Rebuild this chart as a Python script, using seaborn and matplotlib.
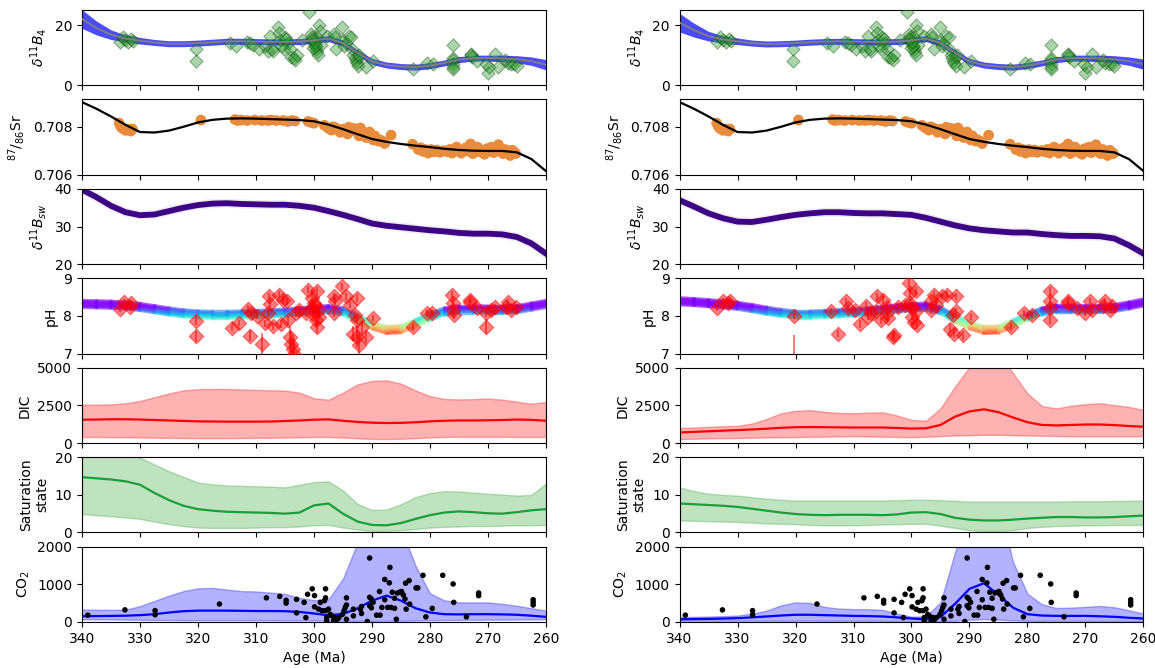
import numpy as np
import matplotlib
matplotlib.use('Agg')
import matplotlib.pyplot as plt
import seaborn as sns
from matplotlib.collections import LineCollection

# 公共年龄网格 (Ma)
age_grid = np.arange(340, 259, -2.5)

# δ11B4 拟合曲线
d11b4_mid_l = [22.0, 19.0, 16.8, 15.5, 14.8, 14.2, 13.8, 13.8, 14.0, 14.3, 14.6,
               14.6, 14.5, 14.4, 14.4, 14.5, 14.9, 15.5, 14.0, 10.8, 7.9, 6.7,
               6.2, 6.0, 6.5, 7.4, 8.5, 9.0, 9.0, 8.9, 8.6, 8.0, 6.8]
d11b4_mid_r = [20.8, 18.3, 16.3, 15.2, 14.6, 14.0, 13.7, 13.8, 14.0, 14.3, 14.5,
               14.6, 14.5, 14.4, 14.4, 14.5, 14.9, 15.5, 14.0, 10.8, 7.9, 6.7,
               6.2, 6.0, 6.5, 7.4, 8.5, 9.0, 9.0, 8.9, 8.6, 8.0, 7.0]
d11b4_hw = [3.1, 2.3, 1.6, 1.2, 1.1, 1.0, 1.0, 1.0, 1.0, 1.0, 1.0,
            1.0, 1.0, 1.0, 1.0, 1.0, 1.0, 1.0, 1.0, 1.0, 1.0, 1.0,
            1.0, 1.0, 1.0, 1.0, 1.0, 1.0, 1.0, 1.1, 1.2, 1.4, 1.7]

# 87/86Sr 曲线
sr_curve = [0.70903, 0.70875, 0.70843, 0.70808, 0.70778, 0.70776, 0.70784, 0.70800, 0.70818, 0.70829, 0.70834,
            0.70835, 0.70834, 0.70832, 0.70830, 0.70828, 0.70823, 0.70809, 0.70790, 0.70769, 0.70749, 0.70737,
            0.70728, 0.70721, 0.70715, 0.70708, 0.70703, 0.70700, 0.70699, 0.70699, 0.70693, 0.70665, 0.70615]

# δ11Bsw
bsw_l = [39.8, 37.8, 35.5, 33.8, 33.0, 33.2, 34.1, 35.0, 35.7, 36.1, 36.2,
         36.0, 35.9, 35.8, 35.8, 35.5, 35.0, 34.1, 33.1, 32.0, 30.8, 30.2,
         29.8, 29.4, 29.0, 28.7, 28.3, 28.1, 28.1, 27.9, 27.2, 25.5, 22.8]
bsw_r = [37.0, 35.3, 33.5, 32.2, 31.3, 31.2, 31.8, 32.5, 33.1, 33.5, 33.8,
         33.8, 33.6, 33.5, 33.5, 33.3, 33.1, 32.3, 31.3, 30.3, 29.5, 29.0,
         28.7, 28.4, 28.4, 28.0, 27.7, 27.5, 27.5, 27.4, 26.8, 25.0, 22.8]

# pH 曲线
ph_l = [8.32, 8.31, 8.30, 8.28, 8.24, 8.18, 8.12, 8.07, 8.04, 8.03, 8.03,
        8.04, 8.05, 8.07, 8.09, 8.12, 8.16, 8.18, 8.12, 7.94, 7.75, 7.63,
        7.65, 7.81, 7.98, 8.12, 8.18, 8.18, 8.17, 8.17, 8.18, 8.25, 8.32]
ph_r = [8.39, 8.37, 8.34, 8.31, 8.27, 8.21, 8.14, 8.08, 8.04, 8.04, 8.05,
        8.07, 8.09, 8.12, 8.16, 8.20, 8.23, 8.25, 8.15, 7.92, 7.75, 7.63,
        7.64, 7.80, 7.98, 8.12, 8.20, 8.20, 8.18, 8.19, 8.21, 8.28, 8.36]

# DIC
dic_mid_l = [1550, 1560, 1580, 1580, 1560, 1530, 1500, 1470, 1440, 1430, 1420,
             1420, 1420, 1430, 1460, 1500, 1550, 1570, 1480, 1400, 1350, 1330,
             1340, 1380, 1440, 1480, 1500, 1500, 1510, 1530, 1560, 1540, 1480]
dic_lo_l = [400, 400, 390, 380, 370, 350, 340, 330, 320, 320, 320,
            330, 340, 350, 360, 380, 400, 400, 360, 310, 270, 260,
            280, 320, 370, 400, 410, 410, 410, 410, 400, 400, 400]
dic_hi_l = [2550, 2550, 2570, 2650, 2800, 3050, 3300, 3500, 3580, 3600, 3600,
            3560, 3530, 3510, 3490, 3350, 2980, 2880, 3350, 3900, 4130, 4170,
            3950, 3500, 3120, 2930, 2900, 2920, 2960, 2880, 2750, 2620, 2720]
dic_mid_r = [700, 740, 780, 820, 860, 900, 950, 1010, 1050, 1060, 1050,
             1040, 1030, 1030, 1030, 1000, 960, 980, 1200, 1750, 2100, 2240,
             2050, 1700, 1380, 1200, 1170, 1200, 1230, 1230, 1190, 1130, 1080]
dic_lo_r = [260, 280, 300, 320, 330, 350, 370, 380, 390, 410, 420,
            440, 450, 440, 420, 400, 390, 410, 460, 500, 520, 540,
            540, 520, 500, 480, 460, 450, 450, 450, 450, 450, 450]
dic_hi_r = [1000, 1030, 1080, 1120, 1140, 1300, 1600, 1980, 2140, 2190, 2080,
            2000, 1980, 2020, 2050, 1830, 1540, 1480, 2300, 3750, 5050, 6000,
            5900, 4650, 3300, 2460, 2300, 2480, 2580, 2650, 2520, 2400, 2200]

# 饱和度
sat_mid_l = [14.7, 14.4, 14.1, 13.6, 12.7, 10.5, 8.6, 7.1, 6.2, 5.8, 5.5,
             5.4, 5.3, 5.2, 5.0, 5.3, 7.2, 7.7, 5.0, 2.9, 2.0, 1.9,
             2.5, 3.6, 4.6, 5.3, 5.6, 5.4, 5.1, 5.0, 5.4, 5.9, 6.2]
sat_lo_l = [4.9, 4.6, 4.3, 4.0, 3.6, 2.9, 2.2, 1.7, 1.3, 1.2, 1.2,
            1.2, 1.3, 1.4, 1.4, 1.6, 1.9, 2.0, 1.3, 0.8, 0.4, 0.4,
            0.6, 0.9, 1.3, 1.5, 1.6, 1.7, 1.7, 1.8, 1.9, 1.9, 2.0]
sat_hi_l = [22.0, 21.8, 21.3, 20.6, 19.9, 18.1, 16.3, 14.8, 13.3, 12.8, 12.5,
            12.4, 12.3, 12.2, 12.0, 12.7, 13.4, 13.6, 11.2, 7.6, 6.0, 6.1,
            7.5, 9.4, 10.5, 11.0, 10.9, 10.6, 10.3, 10.1, 9.8, 10.0, 13.0]
sat_mid_r = [7.7, 7.5, 7.3, 7.1, 6.8, 6.3, 5.8, 5.3, 4.9, 4.7, 4.6,
             4.7, 4.7, 4.7, 4.6, 4.8, 5.3, 5.4, 4.9, 3.9, 3.4, 3.2,
             3.2, 3.4, 3.7, 3.9, 4.1, 4.1, 4.0, 4.0, 4.1, 4.3, 4.5]
sat_lo_r = [3.2, 3.1, 3.0, 2.9, 2.8, 2.6, 2.4, 2.3, 2.2, 2.0, 1.9,
            1.9, 1.9, 2.0, 2.1, 2.2, 2.3, 2.3, 1.8, 1.2, 0.6, 0.4,
            0.4, 0.6, 1.2, 1.5, 1.7, 1.8, 1.9, 1.9, 2.0, 2.0, 2.0]
sat_hi_r = [12.0, 11.0, 10.3, 10.0, 9.8, 9.4, 9.0, 8.7, 8.5, 8.5, 8.5,
            8.5, 8.5, 8.5, 8.5, 8.6, 8.7, 8.7, 8.6, 8.4, 8.2, 8.2,
            8.2, 8.2, 8.2, 8.2, 8.2, 8.3, 8.3, 8.3, 8.4, 8.4, 8.5]

# CO2
co2_mid_l = [150, 155, 160, 165, 180, 205, 250, 285, 300, 300, 300,
             295, 290, 290, 285, 265, 225, 175, 210, 360, 565, 700,
             565, 365, 250, 205, 200, 205, 205, 200, 190, 165, 135]
co2_lo_l = [70, 68, 65, 60, 55, 50, 48, 46, 45, 45, 45,
            44, 42, 40, 38, 36, 35, 34, 30, 28, 25, 26,
            30, 36, 42, 48, 52, 55, 58, 60, 63, 66, 70]
co2_hi_l = [330, 325, 320, 325, 420, 560, 700, 820, 895, 905, 860,
            820, 810, 780, 745, 640, 580, 600, 1150, 2100, 2800, 3000,
            2500, 1500, 760, 570, 520, 520, 520, 480, 430, 365, 300]
co2_mid_r = [70, 75, 80, 90, 100, 120, 145, 170, 190, 190, 180,
             170, 160, 155, 145, 120, 90, 70, 130, 480, 880, 1030,
             720, 380, 205, 170, 160, 160, 160, 150, 135, 110, 90]
co2_lo_r = [30, 30, 30, 30, 30, 30, 30, 30, 30, 30, 30,
            30, 30, 28, 26, 24, 22, 20, 20, 30, 55, 75,
            60, 40, 30, 28, 26, 25, 25, 24, 22, 20, 18]
co2_hi_r = [130, 135, 145, 155, 170, 220, 300, 440, 520, 505, 400,
            355, 340, 340, 320, 220, 140, 150, 520, 1850, 3000, 3500,
            3200, 1600, 750, 470, 370, 380, 400, 425, 390, 310, 225]

# δ11B4 数据点
b4_age = [333.5, 333.0, 332.5, 332.0, 331.5, 331.2, 320.4, 320.4,
          314.5, 313.5, 311.5, 311.0, 310.5, 309.5, 308.5, 308.0, 307.5, 307.2, 307.0,
          306.2, 306.0, 305.8, 305.5, 305.2, 305.0, 304.8, 304.5, 304.2, 304.0, 303.5, 303.2, 303.0, 302.0,
          300.8, 300.5, 300.3, 300.2, 300.0, 299.8, 299.6, 299.4, 299.3, 299.2, 299.0, 298.8, 299.5, 299.7,
          300.1, 299.9, 300.4,
          297.8, 296.6, 296.4, 296.2, 295.1, 295.0, 294.8, 294.5,
          294.0, 293.6, 293.5, 293.2, 293.0, 292.8, 292.6, 292.4, 292.3, 292.2,
          291.0, 289.8, 283.0, 280.5, 279.5,
          276.0, 276.0, 276.0, 276.0, 276.0, 276.0,
          273.0, 273.0, 272.8, 271.9, 270.0, 270.3, 269.8, 268.8, 268.2,
          267.0, 266.6, 266.0, 265.5, 265.0]
b4_val = [14.5, 16.0, 15.0, 14.5, 15.5, 14.8, 12.0, 8.0,
          14.0, 13.0, 14.5, 14.0, 13.5, 12.0, 13.0, 11.5, 16.5, 12.0, 11.5,
          19.5, 17.5, 15.0, 13.0, 12.0, 16.0, 15.5, 14.0, 12.0, 9.5, 9.0, 8.5, 10.0, 15.0,
          24.5, 17.0, 16.0, 15.0, 14.0, 13.0, 12.0, 11.0, 10.0, 20.0, 18.0, 13.5, 16.0, 13.0,
          12.5, 14.5, 15.5,
          16.5, 17.0, 16.0, 12.0, 19.5, 15.0, 13.0, 14.0,
          16.5, 16.0, 12.0, 10.0, 9.0, 8.0, 7.5, 6.5, 9.5, 10.0,
          6.0, 8.0, 5.5, 7.5, 7.0,
          13.5, 9.0, 8.5, 7.0, 6.0, 5.5,
          10.5, 10.0, 9.5, 8.0, 4.0, 7.0, 6.0, 10.5, 6.0,
          8.5, 7.5, 7.0, 7.0, 6.5]

# Sr 数据点
sr_age = [333.6, 333.3, 333.0, 332.5, 332.0, 331.6, 331.3, 319.5,
          313.6, 313.2, 312.5, 311.5, 310.2, 309.0, 308.0, 307.4, 306.5, 305.3, 304.5, 303.8, 303.3,
          301.0, 300.5, 300.0,
          298.2, 297.6, 297.0, 296.7, 296.2, 295.5, 295.0, 294.6, 294.2, 294.0, 293.6, 293.2, 292.8,
          292.5, 292.2, 292.0, 291.7, 291.3, 291.0, 290.7, 290.4, 290.1, 289.8, 289.5, 289.2, 288.9,
          288.6, 288.2, 287.8, 286.7,
          283.0, 282.0, 281.6, 281.2, 280.8, 280.3, 279.8, 279.3, 278.8, 278.3, 277.6, 277.1, 276.6,
          276.2, 275.8, 275.4, 275.0, 274.6, 274.2, 273.8, 273.4, 273.0, 272.6, 272.2, 271.8, 271.4,
          271.0, 270.6, 270.2, 269.8, 269.4, 269.0, 268.6, 268.2, 267.8, 267.4, 267.0, 266.6, 266.2,
          265.8, 265.4, 265.2]
sr_val = [0.70815, 0.70800, 0.70793, 0.70785, 0.70790, 0.70782, 0.70790, 0.70828,
          0.70830, 0.70826, 0.70828, 0.70826, 0.70828, 0.70826, 0.70826, 0.70828, 0.70826, 0.70826, 0.70822, 0.70826, 0.70824,
          0.70822, 0.70818, 0.70815,
          0.70806, 0.70795, 0.70786, 0.70800, 0.70795, 0.70777, 0.70790, 0.70785, 0.70770, 0.70798, 0.70783, 0.70793, 0.70790,
          0.70777, 0.70762, 0.70795, 0.70783, 0.70767, 0.70755, 0.70770, 0.70778, 0.70758, 0.70745, 0.70762, 0.70750, 0.70740,
          0.70745, 0.70740, 0.70730, 0.70765,
          0.70727, 0.70705, 0.70712, 0.70697, 0.70705, 0.70690, 0.70705, 0.70695, 0.70703, 0.70693, 0.70700, 0.70696, 0.70705,
          0.70690, 0.70708, 0.70715, 0.70698, 0.70690, 0.70702, 0.70712, 0.70698, 0.70728, 0.70688, 0.70705, 0.70715, 0.70695,
          0.70700, 0.70685, 0.70708, 0.70698, 0.70715, 0.70692, 0.70705, 0.70725, 0.70698, 0.70688, 0.70705, 0.70695, 0.70680,
          0.70702, 0.70693, 0.70688]

# pH 数据点（左）
phpt_age_l = [333.4, 332.8, 331.8, 331.5, 320.4, 320.4,
              314.2, 313.0, 311.4, 311.1, 310.8, 309.9, 309.0, 308.4, 308.0, 307.7, 307.6, 307.1,
              306.0, 305.6, 305.3, 304.7, 304.4, 304.2, 304.0, 303.7, 303.4, 303.1, 302.5,
              301.3, 301.0, 300.3, 300.3, 300.0, 299.7, 299.5, 299.4, 299.1, 299.1, 300.1, 299.9,
              296.6, 296.3, 296.6, 295.1, 294.5, 293.8, 292.6, 292.9, 292.6, 293.2, 292.6, 292.3, 291.7, 291.0, 289.8,
              283.0, 280.5, 279.6,
              276.2, 276.1, 276.1, 275.9, 273.1, 273.1, 271.9, 270.3, 270.3, 269.4, 268.8,
              266.9, 266.6, 266.0, 265.1]
phpt_val_l = [8.18, 8.36, 8.25, 8.34, 7.87, 7.46,
              7.69, 7.82, 8.18, 7.48, 8.07, 8.00, 7.26, 7.80, 8.07, 8.52, 8.32, 7.73,
              8.57, 7.78, 8.43, 8.39, 7.89, 7.44, 7.26, 7.13, 7.00, 8.07, 8.16,
              8.07, 8.70, 8.21, 8.48, 8.34, 7.89, 7.71, 8.66, 8.16, 7.98, 8.05, 8.28,
              8.52, 8.39, 8.07, 8.79, 8.52, 8.30, 8.48, 8.03, 7.89, 7.53, 7.44, 7.22, 7.71, 7.44, 7.94,
              7.71, 8.07, 8.07,
              8.57, 8.34, 8.16, 8.03, 8.43, 8.36, 8.21, 8.07, 7.71, 8.16, 8.25,
              8.25, 8.36, 8.16, 8.25]
phpt_err_l = [0.08, 0.08, 0.08, 0.08, 0.10, 0.15,
              0.08, 0.08, 0.10, 0.15, 0.08, 0.08, 0.30, 0.10, 0.10, 0.10, 0.10, 0.10,
              0.10, 0.10, 0.10, 0.10, 0.10, 0.30, 0.35, 0.40, 0.40, 0.10, 0.10,
              0.10, 0.10, 0.10, 0.10, 0.10, 0.15, 0.15, 0.10, 0.10, 0.10, 0.10, 0.10,
              0.10, 0.10, 0.10, 0.10, 0.10, 0.10, 0.10, 0.10, 0.10, 0.20, 0.30, 0.30, 0.15, 0.15, 0.08,
              0.10, 0.08, 0.08,
              0.10, 0.10, 0.10, 0.10, 0.08, 0.08, 0.08, 0.10, 0.20, 0.08, 0.08,
              0.08, 0.08, 0.08, 0.08]

# pH 数据点（右）
phpt_age_r = [333.5, 332.5, 331.6, 331.3, 320.2, 320.2,
              313.8, 312.7, 311.3, 311.0, 309.7, 308.8, 307.8, 307.5, 306.9, 306.2, 305.9, 305.3,
              304.9, 304.3, 304.3, 304.0, 303.2, 303.1, 302.4,
              301.2, 300.5, 300.2, 300.2, 299.9, 299.9, 299.6, 299.3, 299.3, 299.0,
              296.7, 296.7, 296.1, 295.8, 294.8, 293.9, 292.9, 292.3, 293.3, 292.6, 292.3, 291.1, 289.8,
              282.8, 280.6, 279.3,
              276.2, 276.2, 276.2, 276.2, 273.0, 273.0, 271.4, 270.1, 269.2, 268.9,
              267.0, 266.7, 265.7, 265.4]
phpt_val_r = [8.20, 8.41, 8.34, 8.39, 8.00, 6.60,
              8.14, 7.53, 8.39, 8.20, 8.16, 7.78, 8.27, 7.98, 8.07, 8.12, 8.52, 7.89,
              8.43, 8.25, 8.07, 7.94, 7.44, 7.49, 8.25,
              8.30, 8.88, 8.61, 8.34, 8.21, 7.98, 7.85, 8.66, 8.12, 7.76,
              8.39, 8.16, 8.57, 8.30, 8.52, 8.57, 8.03, 8.12, 7.66, 7.53, 8.52, 7.49, 7.98,
              7.71, 8.07, 8.03,
              8.66, 8.39, 8.21, 7.89, 8.41, 8.34, 8.21, 8.07, 8.39, 8.16,
              8.27, 8.39, 8.16, 8.27]
phpt_err_r = [0.08, 0.08, 0.08, 0.08, 0.08, 0.90,
              0.08, 0.10, 0.10, 0.10, 0.08, 0.10, 0.10, 0.10, 0.10, 0.10, 0.10, 0.10,
              0.10, 0.10, 0.10, 0.10, 0.10, 0.10, 0.10,
              0.10, 0.10, 0.10, 0.10, 0.10, 0.10, 0.10, 0.10, 0.10, 0.10,
              0.10, 0.10, 0.10, 0.10, 0.10, 0.10, 0.10, 0.10, 0.12, 0.12, 0.10, 0.12, 0.08,
              0.10, 0.08, 0.08,
              0.10, 0.10, 0.10, 0.10, 0.08, 0.08, 0.08, 0.08, 0.08, 0.08,
              0.08, 0.08, 0.08, 0.08]

# CO2 数据点
co2_age = [339.0, 332.6, 327.4, 327.4, 316.3, 308.2, 305.9, 304.8, 304.8, 303.0, 303.0,
           301.7, 301.4, 301.1, 300.3, 299.9, 299.9, 299.2, 298.9, 298.6, 298.2, 298.0,
           298.0, 298.0, 297.8, 297.8, 297.5, 297.2, 296.9, 296.6, 296.3, 296.0, 295.7,
           295.1, 294.8, 294.6, 294.4, 294.4, 294.4, 293.2, 293.2, 292.0, 291.8, 291.8,
           290.8, 290.4, 290.4, 290.4, 290.1, 290.1, 289.8, 289.2, 288.6, 288.7, 288.3,
           287.8, 287.8, 287.3, 287.0, 286.9, 286.7, 286.5, 286.1, 286.1, 285.8, 285.6,
           285.2, 284.9, 284.6, 284.3, 284.1, 284.2, 283.6, 283.5, 282.4, 282.1, 281.2,
           280.7, 279.6, 277.8, 276.0, 275.9, 273.7, 271.6, 271.6, 262.2, 262.2, 262.2]
co2_val = [180, 320, 300, 190, 475, 640, 680, 575, 500, 600, 240,
           520, 115, 735, 880, 700, 400, 340, 520, 300, 565, 880,
           640, 300, 115, 30, 340, 200, 160, 30, 115, 70, 115,
           200, 300, 385, 70, 640, 450, 160, 340, 340, 225, 410,
           10, 1700, 655, 430, 375, 610, 520, 180, 180, 810, 385,
           590, 1130, 385, 1040, 1450, 385, 790, 360, 630, 70, 770,
           790, 810, 720, 610, 340, 1030, 1100, 475, 905, 905, 1240,
           135, 360, 1240, 1010, 520, 135, 770, 700, 590, 520, 450]

ages = np.asarray(age_grid)


def band(ax, mid, lo, hi, line_color, fill_color, fill_alpha):
    ax.fill_between(ages, lo, hi, color=fill_color, alpha=fill_alpha, linewidth=1)
    sns.lineplot(x=ages, y=mid, ax=ax, color=line_color, linewidth=1.6)


def ph_band(ax, vals):
    # 彩虹色 pH 带
    vals = np.asarray(vals)
    norm = plt.Normalize(7.50, 8.25)
    cmap = plt.get_cmap('rainbow_r')
    for off in [-0.09, -0.06, -0.03, 0.0, 0.03, 0.06, 0.09]:
        y = vals + off
        pts = np.column_stack([ages, y])
        segs = np.stack([pts[:-1], pts[1:]], axis=1)
        mid = (y[:-1] + y[1:]) / 2
        lc = LineCollection(segs, colors=cmap(norm(mid)), linewidths=2.5,
                            alpha=0.6, capstyle='round')
        ax.add_collection(lc)


def draw_column(col, d11b4_mid, bsw, ph, ph_age, ph_val, ph_err,
                dic_mid, dic_lo, dic_hi, sat_mid, sat_lo, sat_hi,
                co2_mid, co2_lo, co2_hi):
    d11b4_mid = np.asarray(d11b4_mid)
    hw = np.asarray(d11b4_hw)

    # δ11B4
    ax = col[0]
    ax.fill_between(ages, d11b4_mid - hw, d11b4_mid + hw, color='blue', alpha=0.7, linewidth=0)
    sns.scatterplot(x=b4_age, y=b4_val, ax=ax, marker='D', s=45, color='#2e9a2e',
                    alpha=0.4, edgecolor='#0a4a0a', linewidth=0.8, zorder=3)
    sns.lineplot(x=ages, y=d11b4_mid, ax=ax, color='grey', linewidth=1.3, zorder=4)
    ax.set_ylim(0, 25)
    ax.set_yticks([0, 20])
    ax.set_ylabel(r'$\delta^{11}B_4$')

    # Sr
    ax = col[1]
    sns.scatterplot(x=sr_age, y=sr_val, ax=ax, s=60, color='#E98B3C', edgecolor='none', zorder=3)
    sns.lineplot(x=ages, y=sr_curve, ax=ax, color='black', linewidth=1.6, zorder=4)
    ax.set_ylim(0.706, 0.70914)
    ax.set_yticks([0.706, 0.708])
    ax.set_yticklabels(['0.706', '0.708'])
    ax.set_ylabel(r'$^{87}/_{86}$Sr')

    # δ11Bsw
    ax = col[2]
    sns.lineplot(x=ages, y=bsw, ax=ax, color='#3a0a8a', linewidth=6.5, alpha=0.08)
    sns.lineplot(x=ages, y=bsw, ax=ax, color='#3d0585', linewidth=4.2, alpha=1.0)
    ax.set_ylim(20, 40)
    ax.set_yticks([20, 30, 40])
    ax.set_ylabel(r'$\delta^{11}B_{sw}$')

    # pH
    ax = col[3]
    ph_band(ax, ph)
    ax.errorbar(ph_age, ph_val, yerr=ph_err, fmt='none', ecolor='red', alpha=0.5,
                elinewidth=1.5, zorder=3)
    sns.scatterplot(x=ph_age, y=ph_val, ax=ax, marker='D', s=55, color='red',
                    alpha=0.5, edgecolor='red', linewidth=0.8, zorder=4)
    ax.set_ylim(7, 9)
    ax.set_yticks([7, 8, 9])
    ax.set_ylabel('pH')

    # DIC
    ax = col[4]
    band(ax, dic_mid, dic_lo, dic_hi, 'red', 'red', 0.3)
    ax.set_ylim(0, 5000)
    ax.set_yticks([0, 2500, 5000])
    ax.set_ylabel('DIC')

    # 饱和度
    ax = col[5]
    band(ax, sat_mid, sat_lo, sat_hi, '#1a9e3a', '#2ca02c', 0.3)
    ax.set_ylim(0, 20)
    ax.set_yticks([0, 10, 20])
    ax.set_ylabel('Saturation\nstate')

    # CO2
    ax = col[6]
    band(ax, co2_mid, co2_lo, co2_hi, 'blue', 'blue', 0.3)
    sns.scatterplot(x=co2_age, y=co2_val, ax=ax, s=16, color='black', edgecolor='none', zorder=4)
    ax.set_ylim(0, 2000)
    ax.set_yticks([0, 1000, 2000])
    ax.set_ylabel('CO$_2$')
    ax.set_xlabel('Age (Ma)')

    for a in col:
        a.set_xlim(340, 260)
        a.set_xticks(np.arange(340, 259, -10))
        a.set_xticklabels([str(v) for v in range(340, 259, -10)])
    for a in col[:-1]:
        a.tick_params(labelbottom=False)
        a.set_xlabel('')


fig, axes = plt.subplots(7, 2, figsize=(11.55, 6.68), dpi=100)
plt.subplots_adjust(left=0.071, right=0.99, top=0.985, bottom=0.069, hspace=0.19, wspace=0.288)

draw_column(axes[:, 0], d11b4_mid_l, bsw_l, ph_l, phpt_age_l, phpt_val_l, phpt_err_l,
            dic_mid_l, dic_lo_l, dic_hi_l, sat_mid_l, sat_lo_l, sat_hi_l,
            co2_mid_l, co2_lo_l, co2_hi_l)
draw_column(axes[:, 1], d11b4_mid_r, bsw_r, ph_r, phpt_age_r, phpt_val_r, phpt_err_r,
            dic_mid_r, dic_lo_r, dic_hi_r, sat_mid_r, sat_lo_r, sat_hi_r,
            co2_mid_r, co2_lo_r, co2_hi_r)

plt.savefig('out.png', dpi=100)
plt.close()
